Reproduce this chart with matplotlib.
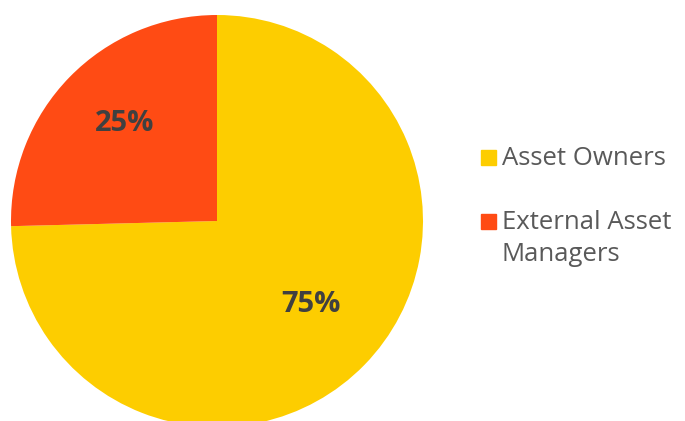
import matplotlib.pyplot as plt
from matplotlib.patches import Rectangle
from matplotlib.transforms import offset_copy

# shares (orange wedge is a bit over a quarter)
labels = ['Asset Owners', 'External Asset\nManagers']
shares = [74.6, 25.4]
colors = ['#FDCD00', '#FF4B14']

plt.rcParams['font.family'] = ['Open Sans', 'DejaVu Sans']

fig = plt.figure(figsize=(6.85, 4.21), dpi=100)
W, H = 685, 421

# pie centre at (217, 221) px from top-left, radius ~206 px
cx, cy, r = 217, 221, 206
ax = fig.add_axes([(cx - r) / W, (H - cy - r) / H, 2 * r / W, 2 * r / H])
wedges, texts, autotexts = ax.pie(
    shares, colors=colors, startangle=90, counterclock=False,
    autopct='%.0f%%', pctdistance=0.63, radius=1,
    textprops=dict(color='#404040', fontsize=21, fontweight='bold'))
# nudge the percentages up a little
for t in autotexts:
    t.set_transform(offset_copy(ax.transData, fig=fig, x=1, y=7, units='dots'))
ax.set_xlim(-1, 1)
ax.set_ylim(-1, 1)
ax.set_aspect('equal')
ax.axis('off')

# hand-made legend: square sits beside the first line of each label
baselines = [165, 229]
line_gap = 32
for lab, col, y in zip(labels, colors, baselines):
    fig.patches.append(Rectangle((481 / W, (H - y) / H), 15 / W, 15 / H,
                                 color=col, transform=fig.transFigure, figure=fig))
    for i, part in enumerate(lab.split('\n')):
        fig.text(502 / W, (H - y - i * line_gap) / H, part, color='#595959',
                 fontsize=18.5, va='baseline')

fig.savefig('out.png', dpi=100)
